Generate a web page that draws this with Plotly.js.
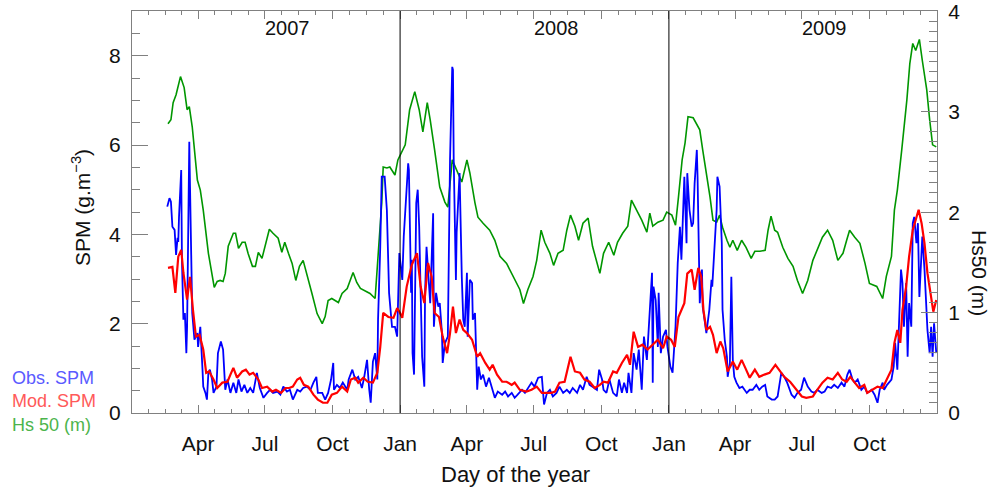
<!DOCTYPE html>
<html><head><meta charset="utf-8">
<script src="https://cdn.plot.ly/plotly-3.0.1.min.js"></script>
<style>html,body{margin:0;padding:0;background:#fff}#chart{width:1002px;height:495px}</style>
</head><body><div id="chart"></div>
<script>
// Day offsets are days since 2007-01-01
const obsDay=[48,51,53,55,58,60,62,63,64,67,68,70,72,74,75,78,79,81,82,85,89,90,93,96,97,100,102,104,106,109,111,115,117,121,124,127,130,134,138,142,145,149,153,157,161,165,170,174,179,184,188,192,198,202,206,211,215,219,225,229,233,238,243,247,251,253,259,263,267,271,274,275,279,283,287,293,295,300,304,308,313,316,320,323,325,328,331,334,335,338,
340,344,347,350,354,358,361,364,368,370,373,376,377,380,381,382,384,387,389,391,393,395,398,399,401,403,406,410,411,414,417,419,422,423,426,430,432,433,436,437,438,441,442,445,446,449,451,453,456,457,460,463,464,467,470,472,475,478,482,486,490,494,498,504,508,512,517,521,525,531,535,539,544,548,553,558,561,565,569,573,578,582,587,592,596,600,606,610,614,619,623,627,633,636,640,642,646,650,655,660,663,667,670,674,676,680,683,687,690,694,697,701,703,708,709,710,713,716,717,720,723,727,729,733,736,739,
740,743,746,748,750,752,755,756,759,762,764,766,769,770,773,776,777,780,782,786,789,790,793,796,797,800,803,804,807,810,811,814,816,818,820,823,827,831,837,841,845,850,854,858,862,865,871,875,879,884,888,892,898,902,906,911,915,920,925,929,933,939,943,947,952,956,961,966,970,974,977,981,984,988,993,997,1001,1007,1011,1015,1018,1022,1024,1028,1034,1037,1039,1042,1045,1047,1049,1051,1054,1056,1058,1061,1063,1065,1068,1070,1072,1075,1076,1079,1082,1083,1086,1088,1090,1092,1095];
const obsSPM=[4.62,4.81,4.73,4.17,4.10,3.54,3.92,3.83,4.39,5.44,3.43,2.09,2.24,1.34,1.93,6.07,5.07,3.43,2.24,1.64,1.79,1.48,1.93,0.97,0.59,0.45,0.30,0.90,0.97,0.75,0.45,0.59,1.34,1.60,1.42,0.52,0.75,0.45,0.68,0.45,0.75,0.48,0.63,0.45,0.56,0.45,0.90,0.56,0.34,0.45,0.52,0.45,0.48,0.41,0.59,0.48,0.52,0.30,0.52,0.48,0.56,0.59,0.52,0.68,0.81,0.45,0.45,0.30,0.45,0.75,1.12,0.52,0.63,0.56,0.68,0.52,0.75,0.97,0.75,0.81,0.56,0.79,1.19,0.52,0.23,1.15,1.34,0.75,2.09,3.72,
5.29,5.29,4.54,2.69,1.93,1.93,1.71,3.58,2.98,3.95,4.92,5.59,5.44,2.69,3.43,1.34,0.86,4.70,5.00,4.17,2.69,1.26,0.59,2.69,3.72,3.27,2.46,4.47,1.93,2.69,2.38,2.46,1.79,1.12,1.56,1.71,4.32,5.67,7.75,7.68,5.67,2.98,4.03,5.22,5.37,3.05,2.09,1.93,3.14,1.71,2.98,2.91,2.09,2.24,0.52,1.04,0.75,0.86,0.59,0.79,0.59,0.34,0.48,0.41,0.48,0.37,0.45,0.34,0.41,0.52,0.45,0.56,0.68,0.59,0.79,0.81,0.19,0.45,0.52,0.37,0.45,0.59,0.45,0.52,0.45,0.56,0.45,0.63,0.52,0.81,0.63,0.59,0.52,0.97,0.75,0.52,0.45,0.75,0.45,0.37,0.75,0.45,0.68,0.45,0.90,0.45,1.34,0.97,1.42,0.52,1.71,1.19,1.79,3.14,0.68,2.83,2.53,1.48,2.69,1.34,1.71,1.86,1.48,1.04,0.90,1.64,
1.93,3.36,4.17,3.43,4.25,5.29,3.80,5.37,4.55,4.17,4.25,5.14,5.89,5.29,2.46,3.21,2.38,2.01,1.79,2.31,2.98,2.83,3.80,4.55,5.29,5.07,3.80,2.31,1.64,1.26,0.81,1.12,3.05,1.19,0.81,0.68,0.56,0.59,0.45,0.52,0.52,0.63,0.52,0.59,0.63,0.37,0.30,0.30,0.37,0.90,0.81,0.68,0.41,0.34,0.45,0.52,0.79,0.59,0.48,0.45,0.52,0.45,0.48,0.59,0.56,0.63,0.56,0.68,0.59,0.86,0.97,0.75,0.68,0.75,0.52,0.59,0.45,0.52,0.41,0.23,0.52,0.68,0.52,0.63,0.75,1.04,1.57,0.97,2.31,3.21,2.91,1.93,2.91,1.26,2.46,1.93,4.25,4.39,3.80,4.25,2.60,3.65,3.95,3.21,2.15,1.86,1.34,1.93,1.26,2.01,1.34];

const modDay=[49,55,59,63,67,70,75,79,83,87,92,97,101,105,111,116,123,130,134,138,143,150,155,160,165,172,177,184,191,196,203,209,214,219,225,229,234,240,247,253,260,266,272,279,286,293,298,304,308,315,321,328,334,338,342,349,356,361,365,368,374,381,388,393,398,403,408,412,418,423,429,433,437,441,446,451,456,463,470,474,481,487,491,497,504,510,517,521,528,537,544,551,558,565,571,576,582,589,593,597,603,610,616,623,630,637,642,648,655,660,667,674,678,683,689,695,702,709,716,723,728,734,739,744,748,752,756,762,766,771,775,778,782,787,791,796,801,805,811,818,824,830,835,841,848,854,861,868,876,882,888,896,905,912,918,927,933,940,947,954,961,967,973,978,984,990,997,1001,1008,1015,1022,1028,1034,1038,1042,1046,1049,1054,1058,1063,1068,1071,1075,1079,1083,1088,1091,1095];
const modSPM=[3.25,3.27,2.69,3.50,3.65,3.14,2.54,3.05,2.31,1.71,1.75,1.42,0.90,0.93,0.75,0.56,0.68,0.70,0.86,1.01,0.79,0.93,0.97,0.86,0.90,0.75,0.56,0.59,0.48,0.52,0.45,0.56,0.56,0.59,0.75,0.79,0.63,0.59,0.41,0.30,0.23,0.23,0.41,0.45,0.59,0.48,0.75,0.79,0.68,0.79,0.70,0.68,0.90,1.48,2.24,2.15,2.13,2.35,2.24,2.13,2.83,3.32,3.58,2.83,2.46,3.36,3.05,2.24,2.15,1.71,1.34,1.79,2.38,1.79,2.09,1.86,1.79,1.64,1.26,1.34,1.12,0.97,1.08,0.86,0.70,0.70,0.63,0.68,0.52,0.48,0.52,0.59,0.45,0.45,0.45,0.48,0.68,0.70,0.97,1.26,0.93,0.90,0.75,0.70,0.56,0.63,0.70,0.68,0.93,0.90,1.12,1.30,1.08,1.82,1.48,1.53,1.42,1.53,1.64,1.45,1.71,1.64,1.48,2.15,2.31,2.46,3.12,3.21,2.76,3.25,3.05,2.31,1.86,1.93,1.75,1.34,1.60,1.45,0.93,1.15,0.97,1.19,1.01,0.79,0.97,0.81,0.86,0.90,1.08,0.93,0.81,0.70,0.52,0.37,0.34,0.37,0.52,0.68,0.79,0.75,0.90,0.75,0.70,0.81,0.68,0.56,0.63,0.45,0.52,0.59,0.56,0.75,0.97,1.57,1.86,1.57,2.31,2.83,3.50,4.10,4.37,4.55,4.25,3.80,3.13,2.53,2.27,2.53];

const hsDay=[49,53,56,60,66,71,75,78,82,89,93,97,104,109,112,116,120,124,127,131,138,141,145,150,154,158,164,168,172,177,181,187,192,199,204,208,213,218,223,228,233,238,245,252,259,263,267,272,277,281,286,293,301,306,311,317,324,331,335,340,342,347,351,358,362,372,378,385,391,396,402,406,412,419,426,430,436,442,449,456,460,467,471,478,487,494,501,510,519,528,533,539,546,551,557,562,569,574,580,587,592,597,603,608,614,621,627,637,642,649,656,661,668,675,680,687,694,701,705,709,716,723,728,735,740,744,749,753,757,764,769,773,777,783,787,791,796,800,804,810,814,818,824,830,836,843,848,855,862,866,870,875,879,886,893,900,906,913,920,927,934,940,947,954,961,968,973,977,984,991,998,1004,1014,1022,1027,1034,1038,1042,1048,1055,1059,1063,1067,1072,1076,1082,1086,1090,1095];
const hsVal=[2.88,2.92,3.09,3.17,3.35,3.24,3.02,3.05,2.85,2.32,2.22,2.02,1.59,1.39,1.25,1.31,1.32,1.31,1.39,1.66,1.79,1.79,1.64,1.70,1.70,1.59,1.46,1.46,1.60,1.54,1.66,1.83,1.79,1.74,1.60,1.70,1.59,1.49,1.32,1.46,1.52,1.39,1.19,0.99,0.89,0.96,1.12,1.14,1.12,1.10,1.19,1.24,1.40,1.30,1.24,1.22,1.19,1.14,1.52,2.09,2.45,2.44,2.45,2.37,2.52,2.67,3.02,3.20,3.02,2.80,3.09,2.92,2.62,2.25,2.10,2.05,2.52,2.42,2.30,2.52,2.39,2.09,1.95,1.89,1.82,1.72,1.56,1.49,1.36,1.23,1.09,1.23,1.36,1.52,1.82,1.70,1.59,1.47,1.59,1.62,1.82,1.97,1.86,1.72,1.89,1.94,1.66,1.39,1.59,1.70,1.57,1.70,1.79,1.86,2.12,2.02,1.92,1.80,1.99,1.86,1.90,1.92,2.00,1.97,1.87,2.15,2.52,2.69,2.95,2.94,2.87,2.82,2.62,2.35,2.15,1.92,1.90,1.97,1.85,1.72,1.65,1.72,1.62,1.72,1.65,1.54,1.61,1.61,1.62,1.82,1.96,1.82,1.80,1.65,1.54,1.46,1.32,1.19,1.32,1.52,1.65,1.75,1.82,1.72,1.52,1.59,1.72,1.82,1.75,1.69,1.49,1.29,1.26,1.14,1.36,1.56,2.02,2.22,2.62,3.12,3.48,3.68,3.61,3.72,3.51,3.22,2.92,2.67,2.65];

const tickDates=['2007-04-01','2007-07-01','2007-10-01','2008-01-01','2008-04-01','2008-07-01','2008-10-01','2009-01-01','2009-04-01','2009-07-01','2009-10-01'];
const tickText=['Apr','Jul','Oct','Jan','Apr','Jul','Oct','Jan','Apr','Jul','Oct'];
const quarterBounds=['2007-01-01','2007-04-01','2007-07-01','2007-10-01','2008-01-01','2008-04-01','2008-07-01','2008-10-01','2009-01-01','2009-04-01','2009-07-01','2009-10-01','2010-01-01'];
const hsTicks=[0,1,2,3,4];
const spmTicks=[0,2,4,6,8];
const yearNames=['2007','2008','2009'];
const yearLabelDates=['2007-08-01','2008-08-01','2009-08-01'];
const yearSplits=['2008-01-01','2009-01-01'];
const legendNames=['Obs. SPM','Mod. SPM','Hs 50 (m)'];
const legendColors=['#5a5aff','#ff5a5a','#4cb44c'];

const BASE=Date.UTC(2007,0,1);
function toDate(d){return new Date(BASE+d*864e5).toISOString().slice(0,10);}
function ms2str(m){return new Date(m).toISOString().replace('T',' ').replace('Z','');}

const minorVals=[];
for(let i=0;i<quarterBounds.length-1;i++){
  const a=Date.parse(quarterBounds[i]+'T00:00:00Z'), b=Date.parse(quarterBounds[i+1]+'T00:00:00Z');
  for(let k=1;k<4;k++) minorVals.push(ms2str(a+(b-a)*k/4));
}

const W=1002,H=495,ML=132,MR=65,MT=11,MB=82;
const PW=W-ML-MR, PH=H-MT-MB;
const px=x=>(x-ML)/PW, py=y=>(H-MB-y)/PH;
const FONT='Liberation Sans, Arial, sans-serif';
const AX='#808080';

const traces=[
 {x:hsDay.map(toDate),y:hsVal,type:'scatter',mode:'lines',line:{color:'#009600',width:1.6},xaxis:'x',yaxis:'y',hoverinfo:'skip'},
 {x:obsDay.map(toDate),y:obsSPM,type:'scatter',mode:'lines',line:{color:'#0000ff',width:1.8},xaxis:'x',yaxis:'y2',hoverinfo:'skip'},
 {x:modDay.map(toDate),y:modSPM,type:'scatter',mode:'lines',line:{color:'#ff0000',width:2.2},xaxis:'x',yaxis:'y2',hoverinfo:'skip'}
];

const annotations=[];
yearNames.forEach((t,i)=>annotations.push({x:yearLabelDates[i],y:py(28),xref:'x',yref:'paper',text:t,showarrow:false,xanchor:'center',yanchor:'middle',font:{family:FONT,size:20,color:'#111'}}));
legendNames.forEach((t,i)=>annotations.push({x:px(10),y:py([378,401,425][i]),xref:'paper',yref:'paper',text:t,showarrow:false,xanchor:'left',yanchor:'middle',font:{family:FONT,size:18,color:legendColors[i]}}));
annotations.push({x:px(81),y:py(208),xref:'paper',yref:'paper',text:'SPM (g.m<sup>−3</sup>)',textangle:-90,showarrow:false,xanchor:'center',yanchor:'middle',font:{family:FONT,size:21,color:'#111'}});
annotations.push({x:px(980),y:py(273),xref:'paper',yref:'paper',text:'Hs50 (m)',textangle:90,showarrow:false,xanchor:'center',yanchor:'middle',font:{family:FONT,size:21,color:'#111'}});
annotations.push({x:px(515),y:py(474),xref:'paper',yref:'paper',text:'Day of the year',showarrow:false,xanchor:'center',yanchor:'middle',font:{family:FONT,size:22,color:'#111'}});

const shapes=yearSplits.map(d=>({type:'line',xref:'x',yref:'paper',x0:d,x1:d,y0:0,y1:1,line:{color:'#000',width:1},layer:'above'}));

const layout={
 width:W,height:H,margin:{l:ML,r:MR,t:MT,b:MB,pad:0},
 paper_bgcolor:'#fff',plot_bgcolor:'#fff',showlegend:false,
 xaxis:{type:'date',range:['2007-01-01','2010-01-01'],tickmode:'array',tickvals:tickDates,ticktext:tickText,
   ticks:'inside',ticklen:8,tickwidth:1,tickcolor:AX,showline:true,linecolor:AX,linewidth:1,mirror:'ticks',
   showgrid:false,zeroline:false,tickfont:{family:FONT,size:21,color:'#111'},ticklabelstandoff:12,ticklabeloverflow:'allow',
   minor:{tickmode:'array',tickvals:minorVals,ticks:'inside',ticklen:4,tickwidth:1,tickcolor:AX,showgrid:false}},
 yaxis:{range:[0,4.003],side:'right',tickmode:'array',tickvals:hsTicks,ticktext:hsTicks.map(String),ticks:'inside',ticklen:16,tickwidth:1,tickcolor:AX,
   showline:true,linecolor:AX,linewidth:1,showgrid:false,zeroline:false,tickfont:{family:FONT,size:21,color:'#111'},ticklabelstandoff:6,ticklabeloverflow:'allow',
   minor:{tick0:0,dtick:0.1,ticks:'inside',ticklen:8,tickwidth:1,tickcolor:AX,showgrid:false}},
 yaxis2:{range:[0,9],overlaying:'y',side:'left',tickmode:'array',tickvals:spmTicks,ticktext:spmTicks.map(String),ticks:'inside',ticklen:16,tickwidth:1,tickcolor:AX,
   showline:true,linecolor:AX,linewidth:1,showgrid:false,zeroline:false,tickfont:{family:FONT,size:21,color:'#111'},ticklabelstandoff:6,ticklabeloverflow:'allow',
   minor:{tick0:0,dtick:0.5,ticks:'inside',ticklen:8,tickwidth:1,tickcolor:AX,showgrid:false}},
 annotations:annotations,shapes:shapes
};
Plotly.newPlot('chart',traces,layout,{displayModeBar:false,staticPlot:true});
</script></body></html>
